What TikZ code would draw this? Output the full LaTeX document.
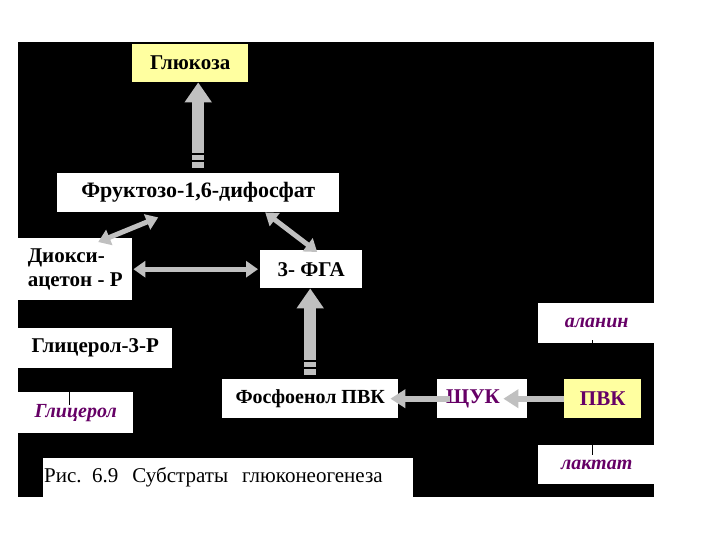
\documentclass[tikz,border=0pt]{standalone}
\usepackage{fontspec}
\setmainfont{Liberation Serif}
\usetikzlibrary{arrows.meta, positioning, calc}
\definecolor{glyellow}{RGB}{255,255,160}
\definecolor{subpurple}{RGB}{102,0,102}
\definecolor{arrgray}{RGB}{192,192,192}

\begin{document}
\begin{tikzpicture}[x=1pt,y=-1pt,
	box/.style={fill=white, anchor=north west, inner sep=0pt, font=\fontsize{21}{24}\selectfont\bfseries},
	subst/.style={box, text=subpurple, font=\fontsize{20}{24}\selectfont\bfseries\itshape},
	bigarrow/.style={draw=arrgray, line width=12pt, -{Triangle[length=20pt,width=26pt]}},
	dblarrow/.style={draw=arrgray, line width=5pt, {Triangle[length=12pt,width=16pt]}-{Triangle[length=12pt,width=16pt]}},
	sidearrow/.style={draw=arrgray, line width=6pt, -{Triangle[length=15pt,width=18pt]}}]
	\fill[white] (0,0) rectangle (720,540);
	\fill[black] (18,42) rectangle (654,497);
	% boxes
	\node[box, fill=glyellow, minimum width=116pt, minimum height=38pt] (glu) at (132,44) {Глюкоза};
	\node[box, font=\fontsize{22}{24}\selectfont\bfseries, minimum width=282pt, minimum height=39pt] (fru) at (57,173) {Фруктозо-1,6-дифосфат};
	\node[box, minimum width=114pt, minimum height=62pt, align=left] (diox) at (18,238) {Диокси-\\ацетон - Р};
	\node[box, minimum width=102pt, minimum height=38pt] (fga) at (260,250) {3- ФГА};
	\node[box, minimum width=154pt, minimum height=40pt] (gly3p) at (18,328) {Глицерол-3-Р};
	\node[subst, minimum width=115pt, minimum height=41pt] (gly) at (18,392) {Глицерол};
	\node[box, font=\fontsize{20}{24}\selectfont\bfseries, minimum width=176pt, minimum height=39pt] (phos) at (222,379) {Фосфоенол ПВК};
	\node[box, text=subpurple, text width=72pt, inner xsep=9pt, align=left, minimum height=39pt] (shuk) at (437,379) {ЩУК};
	\node[box, text=subpurple, fill=glyellow, minimum width=77pt, minimum height=39pt] (pvk) at (564,379) {ПВК};
	\node[subst, minimum width=117pt, minimum height=40pt] (ala) at (538,303) {аланин};
	\node[subst, minimum width=117pt, minimum height=39pt] (lac) at (538,445) {лактат};
	\node[box, font=\fontsize{21}{25}\selectfont, text width=368pt, inner xsep=1pt, align=left, minimum height=39pt] (capt) at (43,458) {Рис. 6.9\ \ Субстраты\ \ глюконеогенеза};
	% thin links
	\draw (gly3p.south -| 69,0) -- ($(gly.north -| 69,0)+(0,13)$);
	\draw ($(ala.south -| 592,0)+(0,-3)$) -- (pvk.north -| 592,0);
	\draw (pvk.south -| 592,0) -- ($(lac.north -| 592,0)+(0,10)$);
	% arrows
	\draw[bigarrow, shorten <=5pt] (fru.north) -- (fru.north |- glu.south);
	\draw[bigarrow, shorten <=4pt] (phos.north) -- (phos.north |- fga.south);
	\foreach \dy in {7,14}{
		\draw[black, line width=1.5pt] ($(fru.north)+(-6,-5-\dy)$) -- ++(12,0);
		\draw[black, line width=1.5pt] ($(phos.north)+(-6,-4-\dy)$) -- ++(12,0);
	}
	\draw[dblarrow] ($(diox.north)+(23,4)$) -- ($(fru.south)+(-40,5)$);
	\draw[dblarrow] ($(fru.south)+(67,0)$) -- ($(fga.north)+(6,2)$);
	\draw[dblarrow, shorten <=1pt, shorten >=2pt] (diox.east) -- (fga.west);
	\draw[sidearrow, shorten <=-13pt, shorten >=-8pt] (shuk.west) -- (phos.east);
	\draw[sidearrow, shorten >=-24pt] (pvk.west) -- (shuk.east);
\end{tikzpicture}
\end{document}
